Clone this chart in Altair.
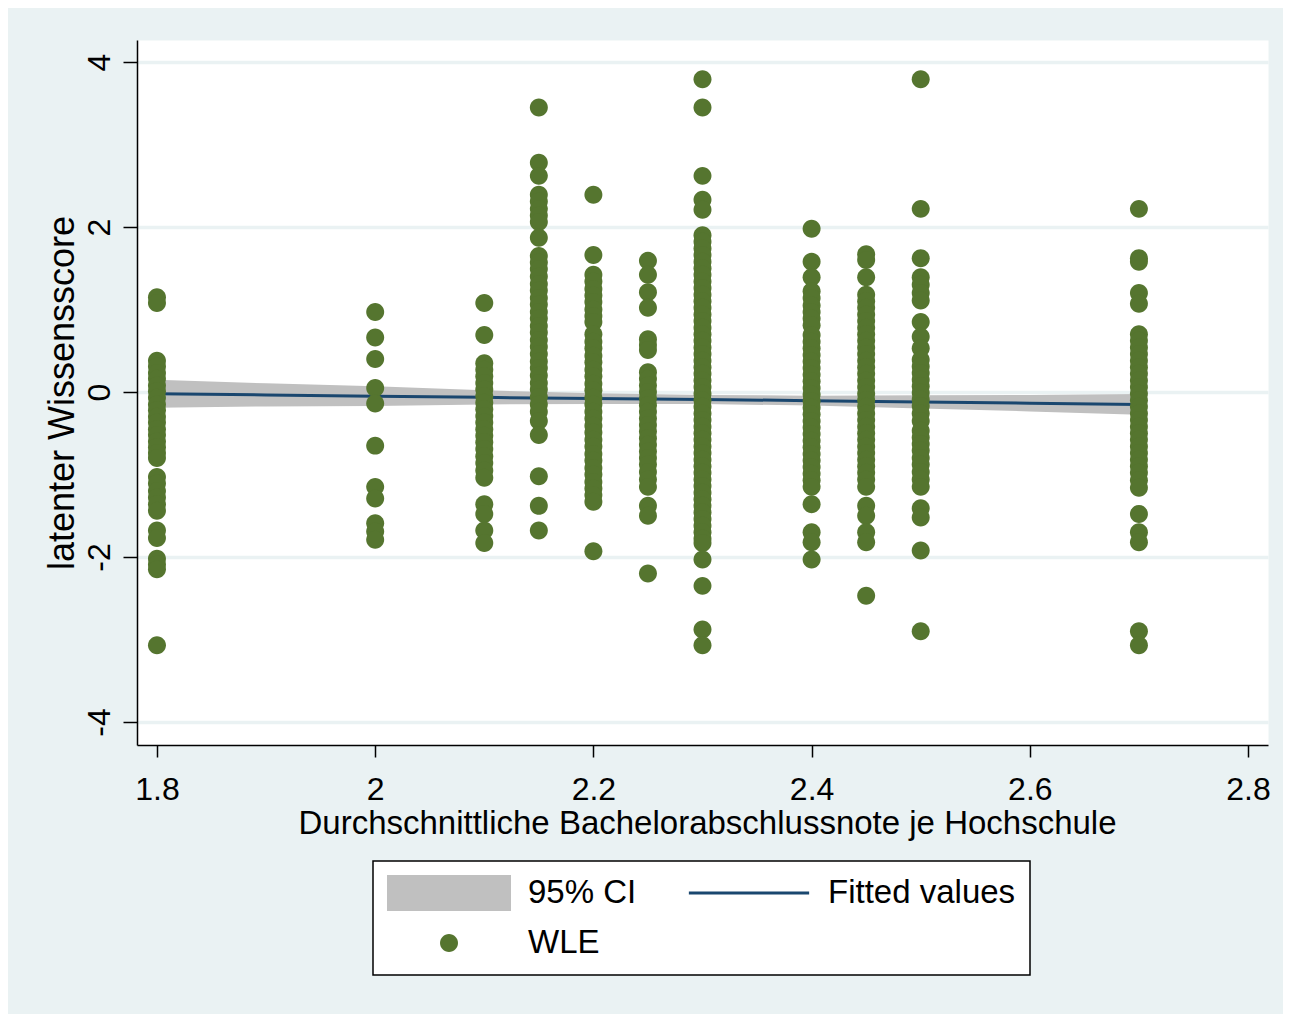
import altair as alt
import pandas as pd

FONT = "Liberation Sans"

# ---------------- data ----------------
x_values = [1.8, 2.0, 2.1, 2.15, 2.2, 2.25, 2.3, 2.4, 2.45, 2.5, 2.7]

wle_180 = [1.15, 1.08, 0.38, 0.31, 0.23, 0.16, 0.08, 0.01, -0.07, -0.15, -0.22, -0.3, -0.37,
           -0.45, -0.52, -0.6, -0.67, -0.74, -0.8, -1.03, -1.11, -1.2, -1.28, -1.36, -1.44,
           -1.68, -1.77, -2.02, -2.09, -2.15, -3.07]
wle_200 = [0.97, 0.66, 0.4, 0.05, -0.14, -0.65, -1.15, -1.29, -1.59, -1.69, -1.79]
wle_210 = [1.08, 0.69, 0.35, 0.27, 0.19, 0.11, 0.03, -0.05, -0.13, -0.21, -0.29, -0.37, -0.45,
           -0.53, -0.61, -0.69, -0.78, -0.86, -0.95, -1.04, -1.36, -1.48, -1.68, -1.83]
wle_215 = [3.45, 2.78, 2.62, 2.39, 2.31, 2.22, 2.14, 2.06, 1.87, 1.65, 1.57, 1.49, 1.4, 1.31,
           1.23, 1.14, 1.06, 0.97, 0.89, 0.8, 0.72, 0.63, 0.55, 0.46, 0.37, 0.29, 0.2, 0.11,
           0.03, -0.06, -0.15, -0.24, -0.35, -0.52, -1.02, -1.38, -1.68]
wle_220 = [2.39, 1.66, 1.42, 1.34, 1.25, 1.17, 1.09, 1.0, 0.92, 0.85, 0.7, 0.61, 0.53, 0.44,
           0.36, 0.27, 0.19, 0.1, 0.02, -0.07, -0.15, -0.24, -0.32, -0.41, -0.49, -0.58, -0.66,
           -0.75, -0.83, -0.92, -1.0, -1.09, -1.17, -1.25, -1.33, -1.93]
wle_225 = [1.59, 1.42, 1.21, 1.02, 0.64, 0.57, 0.51, 0.24, 0.16, 0.08, 0.0, -0.08, -0.16,
           -0.24, -0.32, -0.4, -0.48, -0.56, -0.64, -0.72, -0.8, -0.88, -0.97, -1.06, -1.15,
           -1.38, -1.5, -2.2]
wle_230 = [3.79, 3.45, 2.62, 2.33, 2.21, 1.9, 1.82, 1.74, 1.66, 1.58, 1.5, 1.42, 1.34, 1.26,
           1.18, 1.1, 1.02, 0.94, 0.86, 0.78, 0.7, 0.62, 0.54, 0.46, 0.38, 0.3, 0.22, 0.14,
           0.06, -0.02, -0.1, -0.18, -0.26, -0.34, -0.42, -0.5, -0.58, -0.66, -0.74, -0.82,
           -0.9, -0.98, -1.06, -1.14, -1.22, -1.3, -1.38, -1.46, -1.54, -1.62, -1.7, -1.78,
           -1.83, -2.03, -2.35, -2.88, -3.07]
wle_240 = [1.98, 1.58, 1.39, 1.22, 1.14, 1.05, 0.97, 0.89, 0.81, 0.69, 0.61, 0.53, 0.45, 0.37,
           0.29, 0.21, 0.13, 0.05, -0.03, -0.11, -0.19, -0.27, -0.35, -0.43, -0.51, -0.59,
           -0.67, -0.75, -0.83, -0.91, -0.99, -1.07, -1.15, -1.36, -1.7, -1.82, -2.03]
wle_245 = [1.67, 1.6, 1.39, 1.18, 1.1, 1.02, 0.94, 0.86, 0.78, 0.7, 0.62, 0.54, 0.46, 0.38,
           0.3, 0.22, 0.14, 0.06, -0.02, -0.1, -0.18, -0.26, -0.34, -0.42, -0.5, -0.58, -0.66,
           -0.74, -0.82, -0.9, -0.98, -1.06, -1.15, -1.38, -1.5, -1.7, -1.82, -2.47]
wle_250 = [3.79, 2.22, 1.62, 1.39, 1.3, 1.2, 1.11, 0.85, 0.67, 0.53, 0.39, 0.31, 0.23, 0.15,
           0.07, -0.01, -0.09, -0.17, -0.26, -0.35, -0.47, -0.55, -0.63, -0.71, -0.8, -0.88,
           -0.97, -1.06, -1.15, -1.41, -1.52, -1.92, -2.9]
wle_270 = [2.22, 1.62, 1.58, 1.2, 1.07, 0.7, 0.62, 0.54, 0.46, 0.38, 0.3, 0.22, 0.14, 0.06,
           -0.02, -0.1, -0.18, -0.26, -0.34, -0.42, -0.5, -0.58, -0.66, -0.74, -0.82, -0.9,
           -0.98, -1.07, -1.16, -1.48, -1.7, -1.82, -2.9, -3.07]

wle_columns = [wle_180, wle_200, wle_210, wle_215, wle_220, wle_225, wle_230,
               wle_240, wle_245, wle_250, wle_270]

# fitted values and 95% CI read at these x positions
fit_x = [1.8, 1.9, 2.0, 2.1, 2.2, 2.3, 2.4, 2.5, 2.6, 2.7]
fit_y = [-0.02, -0.035, -0.05, -0.065, -0.08, -0.09, -0.105, -0.12, -0.135, -0.15]
ci_lo = [-0.19, -0.175, -0.17, -0.15, -0.145, -0.145, -0.165, -0.2, -0.235, -0.275]
ci_hi = [0.15, 0.105, 0.07, 0.02, -0.015, -0.035, -0.045, -0.04, -0.035, -0.025]

x_ticks = [1.8, 2.0, 2.2, 2.4, 2.6, 2.8]
y_ticks = [-4, -2, 0, 2, 4]

series_names = ["95% CI", "Fitted values", "WLE"]
series_colors = ["#c0c0c0", "#1a476f", "#55752f"]

# ---------------- tables ----------------
pts_rows = []
for xv, col in zip(x_values, wle_columns):
    for yv in col:
        pts_rows.append({"note": xv, "wle": yv, "series": "WLE"})
pts_df = pd.DataFrame(pts_rows)
fit_df = pd.DataFrame({"note": fit_x, "fit": fit_y, "lo": ci_lo, "hi": ci_hi})

# ---------------- scales / axes ----------------
xscale = alt.Scale(domain=[1.7817, 2.8183], nice=False, zero=False)
yscale = alt.Scale(domain=[-4.279, 4.267], nice=False, zero=False)

X_TITLE = "Durchschnittliche Bachelorabschlussnote je Hochschule"
Y_TITLE = "latenter Wissensscore"

x_axis = alt.Axis(
    values=x_ticks, labelExpr="datum.value", title=X_TITLE, grid=False,
    domainColor="black", domainWidth=1.5, tickColor="black", tickWidth=1.5, tickSize=12,
    labelFont=FONT, labelFontSize=32, labelColor="black", labelPadding=42,
    labelBaseline="alphabetic", labelAlign="center", labelFlush=False, labelOverlap=False,
    titleFont=FONT, titleFontSize=33, titleFontWeight="normal", titleColor="black",
    titleX=570, titleY=88, titleBaseline="alphabetic", titleAlign="center",
)
y_axis = alt.Axis(
    values=y_ticks, labelExpr="datum.value", title=Y_TITLE, grid=True,
    gridColor="#eaf2f3", gridWidth=3.5,
    domainColor="black", domainWidth=1.5, tickColor="black", tickWidth=1.5, tickSize=14,
    labelFont=FONT, labelFontSize=32, labelColor="black", labelAngle=270,
    labelAlign="center", labelBaseline="alphabetic", labelPadding=14,
    labelFlush=False, labelOverlap=False,
    titleFont=FONT, titleFontSize=36, titleFontWeight="normal", titleColor="black",
    titleAngle=270, titleX=-64, titleY=352.5, titleBaseline="alphabetic", titleAlign="center",
)

# legend symbol shapes (unit = half symbol width)
RECT = "M-1,-0.29L1,-0.29L1,0.29L-1,0.29Z"
LINE = "M-0.97,-0.024L0.97,-0.024L0.97,0.024L-0.97,0.024Z"
DOT = "M-0.145,0A0.145,0.145,0,1,1,0.145,0A0.145,0.145,0,1,1,-0.145,0Z"
SYM_SIZE = 15376

legend = alt.Legend(
    title=None, orient="none", legendX=236, legendY=821, columns=2, direction="horizontal",
    symbolSize=SYM_SIZE, symbolStrokeWidth=0, symbolOpacity=1,
    labelFont=FONT, labelFontSize=33, labelColor="black", labelLimit=500,
    labelOffset=17, columnPadding=50, rowPadding=14, clipHeight=36, padding=14,
    fillColor="white", strokeColor="black",
)

band = alt.Chart(fit_df).mark_area(color="#c0c0c0", opacity=1).encode(
    x=alt.X("note:Q", scale=xscale, axis=x_axis),
    y=alt.Y("lo:Q", scale=yscale, axis=y_axis),
    y2="hi:Q",
)
line = alt.Chart(fit_df).mark_line(color="#1a476f", strokeWidth=3).encode(
    x=alt.X("note:Q", scale=xscale, axis=x_axis),
    y=alt.Y("fit:Q", scale=yscale, axis=y_axis),
)
points = alt.Chart(pts_df).mark_point(filled=True, opacity=1, size=SYM_SIZE, strokeWidth=0).encode(
    x=alt.X("note:Q", scale=xscale, axis=x_axis),
    y=alt.Y("wle:Q", scale=yscale, axis=y_axis),
    color=alt.Color("series:N", scale=alt.Scale(domain=series_names, range=series_colors), legend=legend),
    shape=alt.Shape("series:N", scale=alt.Scale(domain=series_names, range=[RECT, LINE, DOT]), legend=legend),
)

chart = (
    alt.layer(band, line, points)
    .properties(
        width=1131, height=705,
        padding={"left": 129, "top": 32, "right": 15, "bottom": 269},
        autosize=alt.AutoSizeParams(type="none"),
    )
    .configure(background="#eaf2f3")
    .configure_view(fill="white", stroke="transparent")
    .configure_legend(strokeWidth=1.5)
)

chart.save("out.html", embed_options={"renderer": "svg", "actions": False})
